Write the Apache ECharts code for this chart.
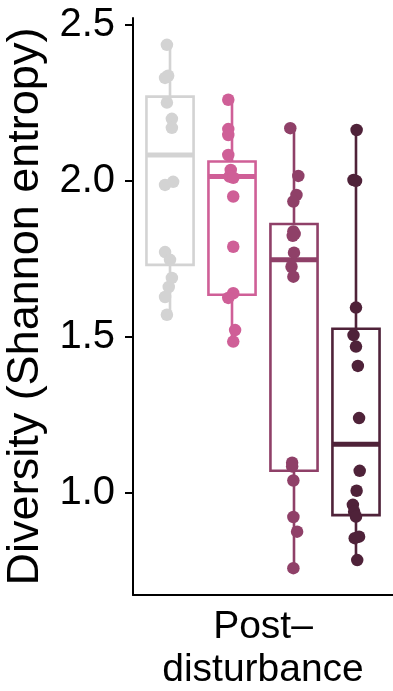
<!DOCTYPE html>
<html><head><meta charset="utf-8">
<script src="https://cdn.jsdelivr.net/npm/echarts@6/dist/echarts.min.js"></script>
<style>html,body{margin:0;padding:0;background:#fff}#c{width:393px;height:691px}</style>
</head><body><div id="c"></div>
<script>
const groupNames = ['G1','G2','G3','G4'];
const groupColors = ['#d3d3d3','#cf5f97','#8f4068','#4f2239'];
const categoryLabel = ['Post\u2013\ndisturbance'];
const yTicks = [1.0, 1.5, 2.0, 2.5];
// box stats: [min, Q1, median, Q3, max]
const boxG1 = [1.571, 1.731, 2.083, 2.270, 2.436];
const boxG2 = [1.485, 1.635, 2.014, 2.062, 2.260];
const boxG3 = [0.759, 1.071, 1.747, 1.862, 2.169];
const boxG4 = [0.785, 0.929, 1.156, 1.526, 2.163];
// points: [value, jitter]
const ptsG1 = [[2.436,-0.05],[2.337,-0.03],[2.33,-0.08],[2.251,-0.05],[2.199,0.03],[2.17,0.03],[1.987,-0.08],[1.997,0.05],[1.772,-0.08],[1.747,0.0],[1.689,0.03],[1.66,-0.02],[1.628,-0.08],[1.571,-0.05]];
const ptsG2 = [[2.260,-0.06],[2.166,-0.06],[2.147,-0.06],[2.083,-0.06],[2.035,-0.02],[2.014,-0.04],[2.01,0.02],[1.95,0.02],[1.789,0.02],[1.64,0.02],[1.625,-0.06],[1.522,0.05],[1.485,0.02]];
const ptsG3 = [[2.169,-0.06],[2.016,0.07],[1.955,0.04],[1.934,-0.01],[1.838,-0.01],[1.83,0.01],[1.824,-0.02],[1.77,0.0],[1.725,-0.04],[1.693,-0.01],[1.097,-0.03],[1.085,-0.03],[1.04,-0.01],[0.923,-0.01],[0.876,0.05],[0.759,-0.01]];
const ptsG4 = [[2.163,0.01],[2.003,-0.04],[2.0,0.0],[1.594,0.0],[1.506,-0.04],[1.469,0.0],[1.407,0.03],[1.24,0.05],[1.071,0.06],[1.007,0.01],[0.962,-0.05],[0.94,-0.03],[0.924,0.0],[0.86,0.05],[0.855,-0.02],[0.785,0.02]];

const boxes = [boxG1, boxG2, boxG3, boxG4];
const pts = [ptsG1, ptsG2, ptsG3, ptsG4];
const boxWidth = 0.76;

const chart = echarts.init(document.getElementById('c'));
const font = '"Liberation Sans", Arial, sans-serif';

const boxSeries = {
  type: 'custom',
  xAxisIndex: 0, yAxisIndex: 0,
  z: 2,
  data: boxes.map((b, i) => [i + 1].concat(b)),
  renderItem: function (params, api) {
    const i = api.value(0);
    const color = groupColors[i - 1];
    const hw = api.size([boxWidth, 0])[0] / 2;
    const pMin = api.coord([i, api.value(1)]);
    const pQ1 = api.coord([i, api.value(2)]);
    const pMed = api.coord([i, api.value(3)]);
    const pQ3 = api.coord([i, api.value(4)]);
    const pMax = api.coord([i, api.value(5)]);
    const x = pMed[0];
    const lw = 2.6;
    return {
      type: 'group',
      children: [
        {type: 'line', shape: {x1: x, y1: pMax[1], x2: x, y2: pQ3[1]}, style: {stroke: color, lineWidth: lw}},
        {type: 'line', shape: {x1: x, y1: pQ1[1], x2: x, y2: pMin[1]}, style: {stroke: color, lineWidth: lw}},
        {type: 'rect', shape: {x: x - hw, y: pQ3[1], width: 2 * hw, height: pQ1[1] - pQ3[1]}, style: {fill: '#fff', stroke: color, lineWidth: lw}},
        {type: 'line', shape: {x1: x - hw, y1: pMed[1], x2: x + hw, y2: pMed[1]}, style: {stroke: color, lineWidth: 5}}
      ]
    };
  }
};

const scatterSeries = pts.map((p, gi) => ({
  type: 'scatter',
  name: groupNames[gi],
  xAxisIndex: 0, yAxisIndex: 0,
  z: 3,
  symbolSize: 12.5,
  itemStyle: {color: groupColors[gi], opacity: 1},
  data: p.map(d => [gi + 1 + d[1], d[0]])
}));

chart.setOption({
  animation: false,
  grid: {left: 133, right: 0, top: 18, bottom: 96, containLabel: false, outerBoundsMode: 'none'},
  xAxis: [
    {type: 'value', min: 0.403, max: 4.597, show: true,
     axisLine: {show: true, lineStyle: {color: '#000', width: 2}},
     axisTick: {show: false}, axisLabel: {show: false}, splitLine: {show: false}},
    {type: 'category', position: 'bottom', data: categoryLabel, boundaryGap: true,
     axisLine: {show: false}, axisTick: {show: false}, splitLine: {show: false},
     axisLabel: {show: true, color: '#000', fontSize: 39, fontFamily: font, lineHeight: 43, margin: 11}}
  ],
  yAxis: {
    type: 'value', min: 0.673, max: 2.522,
    name: 'Diversity (Shannon entropy)', nameLocation: 'middle', nameGap: 75,
    nameTextStyle: {fontSize: 45, fontFamily: font, color: '#000'},
    axisLine: {show: true, lineStyle: {color: '#000', width: 2}},
    axisTick: {show: true, length: 8, lineStyle: {color: '#000', width: 2}, customValues: yTicks},
    axisLabel: {show: true, color: '#000', fontSize: 40, fontFamily: font, margin: 18, customValues: yTicks,
      formatter: v => Number(v).toFixed(1)},
    splitLine: {show: false}
  },
  series: [boxSeries].concat(scatterSeries)
});
</script>
</body></html>
